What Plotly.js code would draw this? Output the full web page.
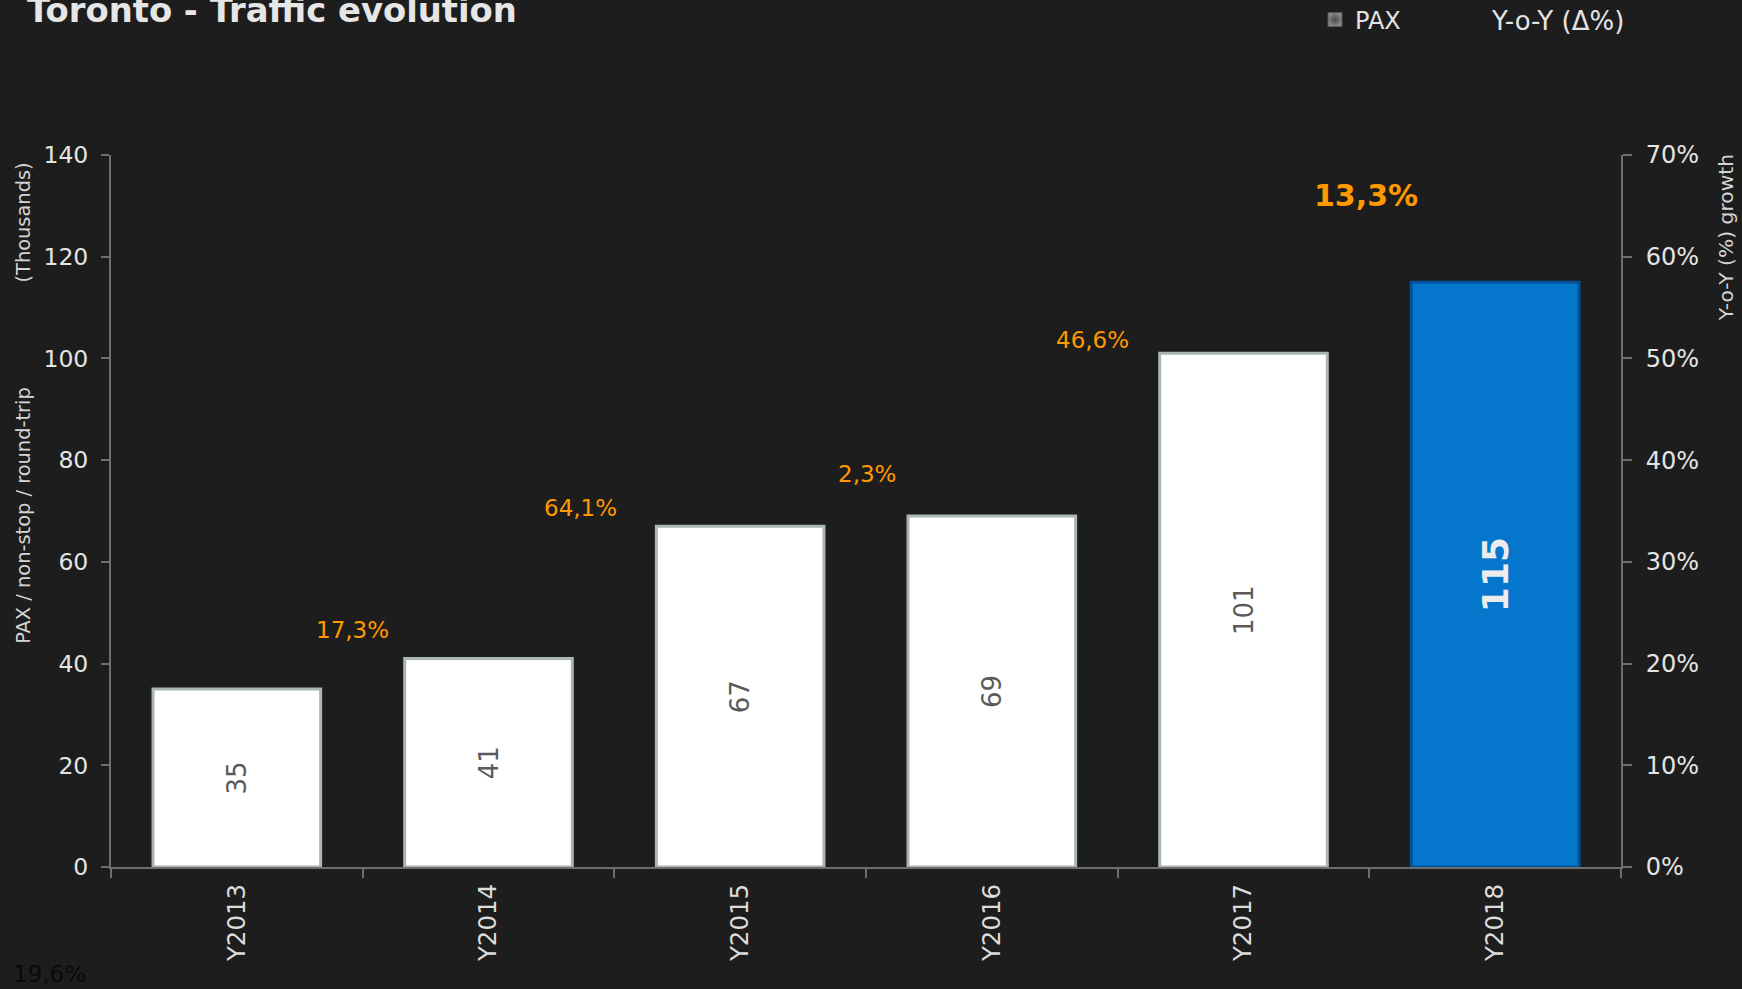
<!DOCTYPE html>
<html><head><meta charset="utf-8">
<script src="https://cdn.plot.ly/plotly-3.0.1.min.js"></script>
<style>html,body{margin:0;padding:0;background:#1d1d1d;overflow:hidden;} #chart{width:1742px;height:989px;}</style>
</head><body><div id="chart"></div>
<script>
// ---- data ----
const years = ['Y2013', 'Y2014', 'Y2015', 'Y2016', 'Y2017', 'Y2018'];
const pax = [35, 41, 67, 69, 101, 115];            // thousands
const yoy = [19.6, 17.3, 64.1, 2.3, 46.6, 13.3];    // % growth vs previous year
const highlightIndex = 5;
const chartTitle = 'Toronto - Traffic evolution';
const seriesNames = ['PAX', 'Y-o-Y (\u0394%)'];
const leftAxisLabel = ['PAX / non-stop / round-trip', '(Thousands)'];
const rightAxisLabel = 'Y-o-Y (%) growth';

// ---- styling (not data) ----
const FONT = 'DejaVu Sans';
const BG = '#1d1d1d';
const AXIS = '#6e6e6e';
const TXT = '#e4e4e4';
const ORANGE = '#ff9900';
const labelShiftX = [0, -10, -34, 1, -25, -3];   // px
const labelShiftY = [0, 28, 18, 42, 13, 87];     // px above the bar top
const nb = n => '\u00A0'.repeat(n);
const pad = n => '<span style="color:rgba(0,0,0,0)">.</span>' + nb(n);

const fmtPct = v => v.toFixed(1).replace('.', ',') + '%';

const barColors = pax.map((_, i) => i === highlightIndex ? '#0477cc' : '#ffffff');
const barLines = pax.map((_, i) => i === highlightIndex ? '#02549a' : '#aab6b6');
const barText = pax.map((v, i) => i === highlightIndex ? '<b>' + v + '</b>' : String(v));
const barTextColor = pax.map((_, i) => i === highlightIndex ? '#ececec' : '#5a5a5a');
const barTextSize = pax.map((_, i) => i === highlightIndex ? 36 : 26);

const traces = [
  {
    type: 'bar', x: years, y: pax, name: seriesNames[0], showlegend: false,
    marker: { color: barColors, line: { color: barLines, width: 3 } },
    text: barText, textposition: 'inside', insidetextanchor: 'middle', textangle: -90,
    textfont: { family: FONT, color: barTextColor, size: barTextSize },
    constraintext: 'none', hoverinfo: 'skip'
  },
  {
    type: 'scatter', mode: 'markers', x: [years[0]], y: [null], name: seriesNames[0],
    showlegend: true, legend: 'legend',
    marker: { symbol: 'square', size: 14, color: '#8a8a8a',
              gradient: { type: 'radial', color: '#4a4a4a' }, line: { color: '#555', width: 1 } },
    hoverinfo: 'skip'
  },
  {
    type: 'scatter', mode: 'lines', x: years, y: yoy.map(v => v / 100), yaxis: 'y2',
    name: seriesNames[1], legend: 'legend2',
    line: { color: 'rgba(0,0,0,0)', width: 0 }, hoverinfo: 'skip'
  }
];

const annotations = [];
yoy.forEach((v, i) => {
  if (i === 0) {
    annotations.push({
      xref: 'paper', yref: 'paper', x: -0.0662, y: -0.150, xanchor: 'left', yanchor: 'middle',
      text: fmtPct(v), showarrow: false, font: { family: FONT, size: 23, color: '#0a0a0a' }
    });
    return;
  }
  const hi = i === highlightIndex;
  annotations.push({
    xref: 'x', yref: 'y', x: i - 0.5, y: pax[i], xanchor: 'center', yanchor: 'middle',
    xshift: labelShiftX[i], yshift: labelShiftY[i],
    text: hi ? '<b>' + fmtPct(v) + '</b>' : fmtPct(v), showarrow: false,
    font: { family: FONT, size: hi ? 30 : 23, color: ORANGE }
  });
});

const legendBase = {
  orientation: 'h', xref: 'container', yref: 'container', xanchor: 'left',
  y: 1 - 20 / 989, yanchor: 'middle', bgcolor: 'rgba(0,0,0,0)'
};

const layout = {
  width: 1742, height: 989,
  paper_bgcolor: BG, plot_bgcolor: BG,
  margin: { l: 111, r: 121, t: 155, b: 122, pad: 0 },
  font: { family: FONT, color: TXT, size: 23 },
  barmode: 'overlay', bargap: 0.334,
  hovermode: false,
  title: {
    text: chartTitle, xref: 'container', yref: 'container', x: 27 / 1742, xanchor: 'left',
    y: 0.9894, yanchor: 'middle',
    font: { family: FONT, size: 33.8, weight: 700, color: '#e6e6e6' }
  },
  legend: Object.assign({}, legendBase, { x: 1315 / 1742,
    font: { family: FONT, size: 24, color: TXT } }),
  legend2: Object.assign({}, legendBase, { x: 1452 / 1742,
    font: { family: FONT, size: 26, color: TXT } }),
  xaxis: {
    type: 'category', showgrid: false, zeroline: false,
    showline: true, linecolor: AXIS, linewidth: 2,
    ticks: 'outside', tickson: 'boundaries', ticklen: 9, tickcolor: AXIS, tickwidth: 2,
    ticklabelstandoff: 5,
    tickangle: -90, tickfont: { family: FONT, size: 24.5, color: '#dcdcdc' }
  },
  yaxis: {
    range: [0, 140], dtick: 20, showgrid: false, zeroline: false,
    showline: true, linecolor: AXIS, linewidth: 2,
    ticks: 'outside', ticklen: 8, tickcolor: AXIS, tickwidth: 2, ticklabelstandoff: 8,
    tickfont: { family: FONT, size: 23.5, color: '#e4e4e4' },
    title: {
      text: pad(34) + leftAxisLabel[0] + nb(17) + leftAxisLabel[1], standoff: 8,
      font: { family: FONT, size: 19.4, color: '#d4d4d4' }
    }
  },
  yaxis2: {
    overlaying: 'y', side: 'right', range: [0, 0.7], dtick: 0.1, tickformat: '.0%',
    showgrid: false, zeroline: false, showline: true, linecolor: AXIS, linewidth: 2,
    ticks: 'outside', ticklen: 9, tickcolor: AXIS, tickwidth: 2, ticklabelstandoff: 9,
    tickfont: { family: FONT, size: 24, color: '#e4e4e4' },
    title: {
      text: pad(84) + rightAxisLabel, standoff: 21,
      font: { family: FONT, size: 20.3, color: '#d4d4d4' }
    }
  },
  annotations: annotations
};

Plotly.newPlot('chart', traces, layout, { displayModeBar: false, staticPlot: true });
</script></body></html>
